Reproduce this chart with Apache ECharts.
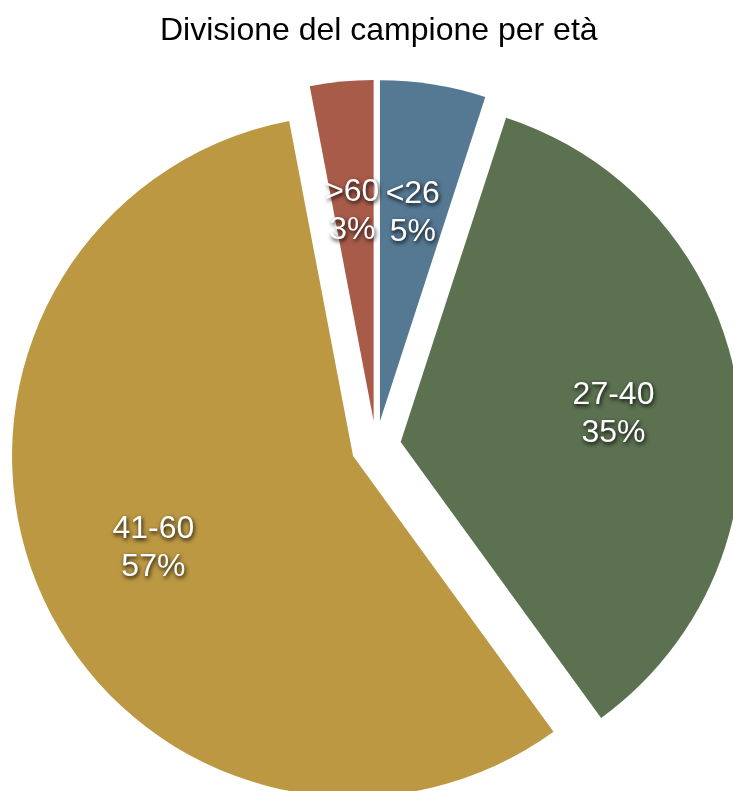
<!DOCTYPE html>
<html>
<head>
<meta charset="utf-8">
<script src="https://cdn.jsdelivr.net/npm/echarts@6/dist/echarts.min.js"></script>
<style>html,body{margin:0;padding:0;background:#fff;}#c{width:733px;height:791px;}</style>
</head>
<body>
<div id="c"></div>
<script>
const titleText = 'Divisione del campione per età';
const categories = ['<26', '27-40', '41-60', '>60'];
const values = [5, 35, 57, 3];
const colors = ['#557893', '#5b7150', '#bc9843', '#a95b4a'];

const chart = echarts.init(document.getElementById('c'));
const center = [376, 446];
const labelCenter = [375, 452];
const R = 341;
const off = 25;

const baseData = categories.map((c, i) => ({
  name: c, value: values[i], selected: true,
  itemStyle: { color: colors[i] }
}));
const labelData = categories.map((c, i) => ({
  name: c, value: values[i], selected: true
}));

chart.setOption({
  animation: false,
  title: {
    text: titleText, left: 150, top: 10, padding: [5, 10],
    textStyle: { fontFamily: 'Liberation Sans, Arial, sans-serif', fontSize: 32, fontWeight: 'normal', color: '#000' }
  },
  series: [
    {
      type: 'pie', center: center, radius: [0, R], startAngle: 90, clockwise: true,
      selectedMode: 'multiple', selectedOffset: off, avoidLabelOverlap: false,
      label: { show: false }, labelLine: { show: false },
      emphasis: { disabled: true }, silent: true,
      itemStyle: { borderWidth: 0 },
      data: baseData
    },
    {
      type: 'pie', center: labelCenter, radius: [86, R], startAngle: 90, clockwise: true,
      selectedMode: 'multiple', selectedOffset: off, avoidLabelOverlap: false,
      emphasis: { disabled: true }, silent: true,
      itemStyle: { color: 'rgba(0,0,0,0)', borderWidth: 0 },
      labelLine: { show: false },
      label: {
        show: true, position: 'inside',
        formatter: p => p.name + '\n' + Math.round(p.percent) + '%',
        fontFamily: 'Liberation Sans, Arial, sans-serif', fontSize: 32, lineHeight: 38,
        color: '#fff', textBorderWidth: 0,
        textShadowColor: 'rgba(0,0,0,0.95)', textShadowBlur: 4, textShadowOffsetX: 1, textShadowOffsetY: 2
      },
      data: labelData
    }
  ]
});
</script>
</body>
</html>
